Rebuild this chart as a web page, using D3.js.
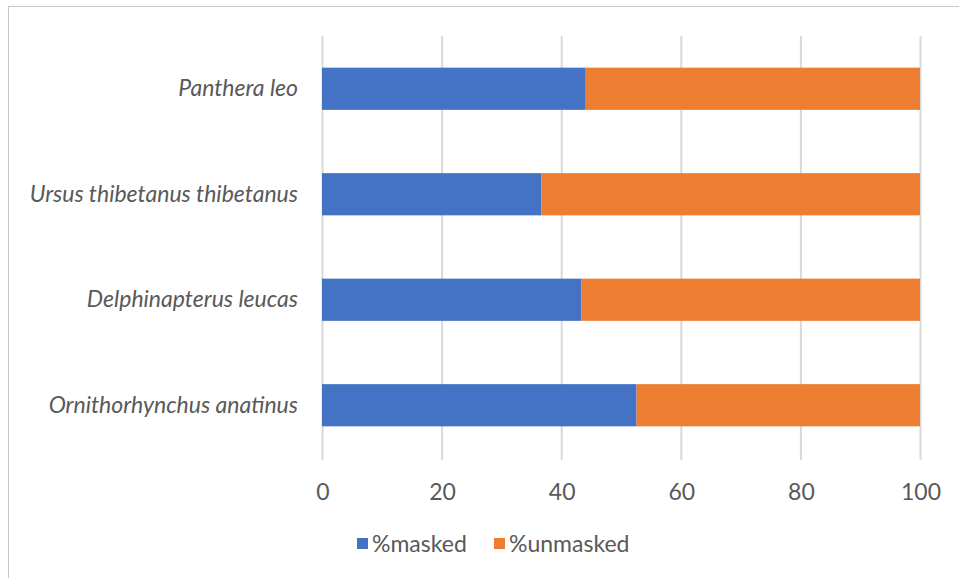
<!DOCTYPE html>
<html>
<head>
<meta charset="utf-8">
<script src="https://cdn.jsdelivr.net/npm/d3@7"></script>
<style>
  html, body { margin: 0; padding: 0; background: #fff; }
  svg { display: block; }
</style>
</head>
<body>
<svg id="chart" width="959" height="578"></svg>
<script>
const categories = ["Panthera leo", "Ursus thibetanus thibetanus", "Delphinapterus leucas", "Ornithorhynchus anatinus"];
const seriesNames = ["%masked", "%unmasked"];
const masked = [44.1, 36.7, 43.4, 52.6];
const unmasked = [55.9, 63.3, 56.6, 47.4];
const xTicks = [0, 20, 40, 60, 80, 100];
const colors = ["#4472C4", "#ED7D31"];

const svg = d3.select("#chart");
const W = 959, H = 578;
const margin = { left: 322, right: 39, top: 36, bottom: 120 };
const FONT = "Lato, 'Open Sans', sans-serif";

svg.append("rect").attr("x", 8.5).attr("y", 6.5).attr("width", W + 10).attr("height", H + 10)
  .attr("fill", "#fff").attr("stroke", "#c8c8c8").attr("stroke-width", 1);

const x = d3.scaleLinear().domain([0, 100]).range([margin.left, W - margin.right]);
const y = d3.scaleBand().domain(categories).range([margin.top, H - margin.bottom]).paddingInner(0.6).paddingOuter(0.3);

// gridlines
svg.append("g").selectAll("line").data(xTicks).join("line")
  .attr("x1", d => x(d) + 0.5).attr("x2", d => x(d) + 0.5)
  .attr("y1", margin.top).attr("y2", H - margin.bottom + 2)
  .attr("stroke", "#d9d9d9").attr("stroke-width", 2);

const data = categories.map((c, i) => ({ cat: c, "%masked": masked[i], "%unmasked": unmasked[i] }));
const stack = d3.stack().keys(seriesNames)(data);

svg.append("g").selectAll("g").data(stack).join("g")
  .attr("fill", (d, i) => colors[i])
  .selectAll("rect").data(d => d).join("rect")
  .attr("x", d => x(d[0]))
  .attr("width", d => x(d[1]) - x(d[0]))
  .attr("y", d => y(d.data.cat))
  .attr("height", y.bandwidth());

// y labels
const yAxis = d3.axisLeft(y).tickSize(0).tickPadding(24);
const yg = svg.append("g").attr("transform", `translate(${margin.left},0)`).call(yAxis);
yg.select(".domain").remove();
yg.selectAll("text").attr("font-family", FONT).attr("font-style", "italic")
  .attr("font-size", 23).attr("fill", "#595959");

// x axis
const xAxis = d3.axisBottom(x).tickValues(xTicks).tickSize(0).tickPadding(24);
const xg = svg.append("g").attr("transform", `translate(0.5,${H - margin.bottom + 2})`).call(xAxis);
xg.select(".domain").remove();
xg.selectAll("text").attr("font-family", FONT)
  .attr("font-size", 23).attr("fill", "#595959");

// legend
const legendX = [357, 494];
const lg = svg.append("g");
seriesNames.forEach((s, i) => {
  lg.append("rect").attr("x", legendX[i]).attr("y", 538).attr("width", 11).attr("height", 11).attr("fill", colors[i]);
  lg.append("text").attr("x", legendX[i] + 15).attr("y", 552)
    .attr("font-family", FONT).attr("font-size", 23).attr("fill", "#595959").text(s);
});
</script>
</body>
</html>
